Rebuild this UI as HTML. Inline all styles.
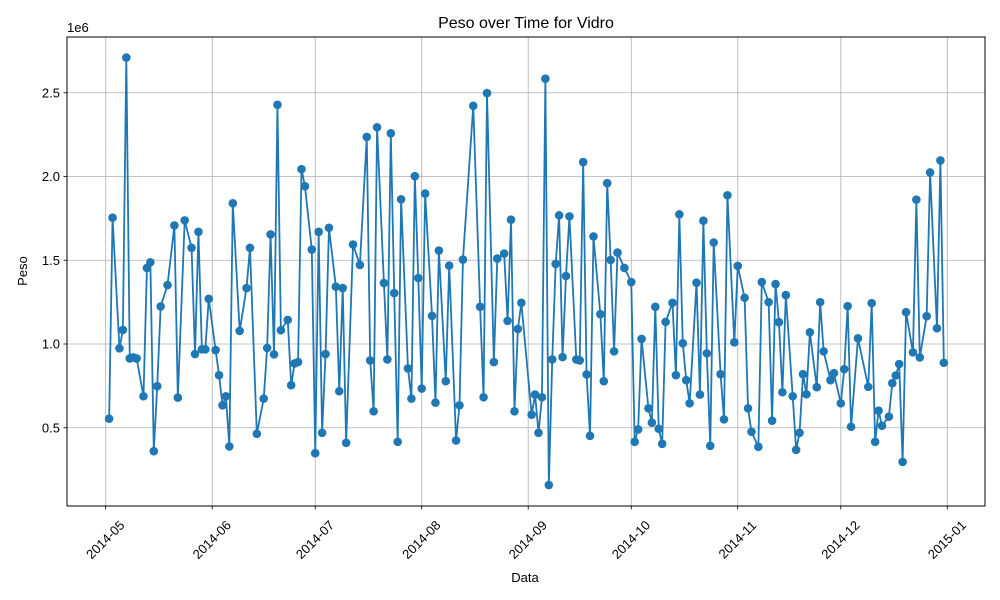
<!DOCTYPE html>
<html><head><meta charset="utf-8">
<style>
html,body{margin:0;padding:0;background:#fff;}
svg{display:block;font-family:"Liberation Sans","DejaVu Sans",sans-serif;}
</style></head>
<body>
<svg id="chart" width="1000" height="600" viewBox="0 0 1000 600" xmlns="http://www.w3.org/2000/svg">
<rect x="0" y="0" width="1000" height="600" fill="#fff"/>
<g id="grid"></g>
<g id="series"></g>
<rect x="67" y="37" width="918" height="469" fill="none" stroke="#000" stroke-width="1"/>
<g id="axes"></g>
<text x="526" y="28" font-size="16" text-anchor="middle">Peso over Time for Vidro</text>
<text x="67" y="32" font-size="13">1e6</text>
<text x="525" y="582" font-size="13" text-anchor="middle">Data</text>
<text x="27" y="271" font-size="13" text-anchor="middle" transform="rotate(-90 27 271)">Peso</text>
</svg>
<script>
// days since 2014-05-01
const dayOffsets = [1,2,4,5,6,7,8,9,11,12,13,14,15,16,18,20,21,23,25,26,27,28,29,30,32,33,34,35,36,37,39,41,42,44,46,47,48,49,50,51,53,54,55,56,57,58,60,61,62,63,64,65,67,68,69,70,72,74,76,77,78,79,81,82,83,84,85,86,88,89,90,91,92,93,95,96,97,99,100,102,103,104,107,109,110,111,113,114,116,117,118,119,120,121,124,125,126,127,128,129,130,131,132,133,134,135,137,138,139,140,141,142,144,145,146,147,148,149,151,153,154,155,156,158,159,160,161,162,163,165,166,167,168,169,170,172,173,174,175,176,177,179,180,181,183,184,186,187,188,190,191,193,194,195,196,197,198,200,201,202,203,204,205,207,208,209,211,212,214,215,216,217,219,222,223,224,225,226,228,229,230,231,232,233,235,236,237,239,240,242,243,244];
// peso values in millions
const pesoValues = [0.554,1.754,0.974,1.084,2.71,0.914,0.92,0.914,0.688,1.454,1.488,0.36,0.748,1.224,1.352,1.708,0.68,1.738,1.574,0.94,1.67,0.968,0.968,1.27,0.964,0.814,0.634,0.688,0.388,1.84,1.078,1.334,1.574,0.464,0.674,0.976,1.654,0.938,2.428,1.082,1.144,0.754,0.884,0.892,2.044,1.942,1.564,0.348,1.67,0.47,0.94,1.694,1.342,0.718,1.334,0.41,1.594,1.472,2.236,0.902,0.598,2.294,1.364,0.908,2.258,1.304,0.416,1.864,0.854,0.674,2.002,1.394,0.734,1.898,1.168,0.65,1.558,0.778,1.468,0.424,0.634,1.504,2.422,1.222,0.682,2.498,0.892,1.51,1.54,1.138,1.742,0.598,1.09,1.246,0.578,0.698,0.47,0.682,2.584,0.158,0.908,1.478,1.768,0.922,1.406,1.762,0.908,0.902,2.086,0.818,0.452,1.642,1.178,0.778,1.96,1.502,0.956,1.546,1.454,1.37,0.416,0.49,1.03,0.616,0.53,1.222,0.494,0.404,1.132,1.246,0.814,1.774,1.004,0.784,0.646,1.366,0.698,1.736,0.944,0.392,1.606,0.82,0.55,1.888,1.01,1.466,1.276,0.616,0.476,0.386,1.37,1.25,0.542,1.358,1.13,0.712,1.292,0.688,0.368,0.47,0.82,0.7,1.07,0.742,1.25,0.956,0.784,0.826,0.646,0.85,1.226,0.506,1.034,0.744,1.244,0.416,0.602,0.512,0.566,0.766,0.812,0.88,0.296,1.19,0.95,1.862,0.92,1.166,2.024,1.094,2.096,0.888];
const xTickDays = [0,31,61,92,123,153,184,214,245];
const xTickLabels = ["2014-05","2014-06","2014-07","2014-08","2014-09","2014-10","2014-11","2014-12","2015-01"];
const yTickValues = [0.5,1.0,1.5,2.0,2.5];
const yTickLabels = ["0.5","1.0","1.5","2.0","2.5"];

const NS="http://www.w3.org/2000/svg";
const xScale = d => 105.7 + d*3.435;
const yScale = v => 511.5 - v*167.5;
const grid=document.getElementById('grid'), axes=document.getElementById('axes'), series=document.getElementById('series');
function mk(tag, attrs, parent){const e=document.createElementNS(NS,tag);for(const k in attrs)e.setAttribute(k,attrs[k]);parent.appendChild(e);return e;}

xTickDays.forEach((d,i)=>{
  const x=xScale(d);
  const g=mk('line',{x1:x,x2:x,y1:37,y2:506,stroke:'#b0b0b0','stroke-width':0.8},grid);
  
  
  const t=mk('line',{x1:x,x2:x,y1:506,y2:509.5,stroke:'#000','stroke-width':0.8},axes);
  
  
  const lbl=mk('text',{x:x,y:544,'font-size':13,'text-anchor':'middle',transform:`rotate(-45 ${x} 540)`},axes);
  lbl.textContent=xTickLabels[i];
  
  
});
yTickValues.forEach((v,i)=>{
  const y=yScale(v);
  const g=mk('line',{x1:67,x2:985,y1:y,y2:y,stroke:'#b0b0b0','stroke-width':0.8},grid);
  
  
  const t=mk('line',{x1:63.5,x2:67,y1:y,y2:y,stroke:'#000','stroke-width':0.8},axes);
  
  
  const lbl=mk('text',{x:60,y:y+4.5,'font-size':13,'text-anchor':'end'},axes);
  lbl.textContent=yTickLabels[i];
  
  
});
const pts=dayOffsets.map((d,i)=>xScale(d).toFixed(2)+','+yScale(pesoValues[i]).toFixed(2)).join(' ');
const line=mk('polyline',{points:pts,fill:'none',stroke:'#1f77b4','stroke-width':1.8,'stroke-linejoin':'round'},series);


dayOffsets.forEach((d,i)=>{
  const c=mk('circle',{cx:xScale(d),cy:yScale(pesoValues[i]),r:4.3,fill:'#1f77b4'},series);
  
  
});
</script>
</body></html>
